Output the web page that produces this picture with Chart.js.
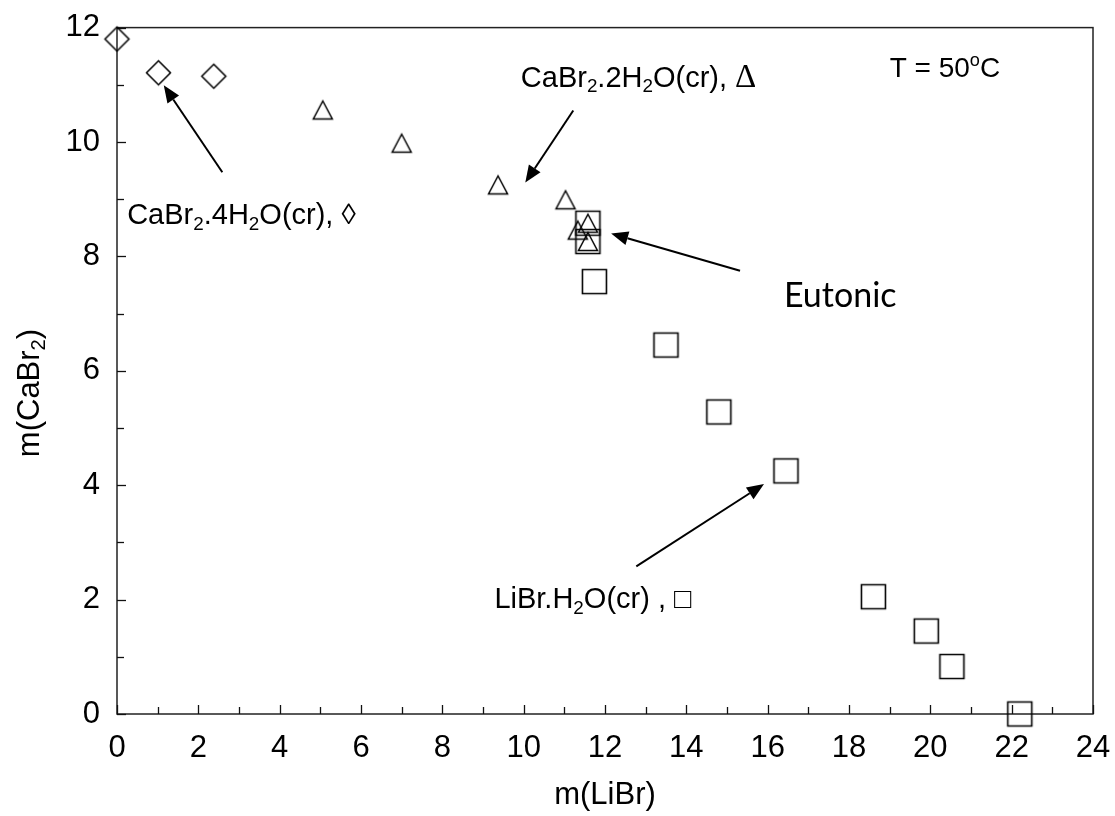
<!DOCTYPE html>
<html>
<head>
<meta charset="utf-8">
<script src="https://cdn.jsdelivr.net/npm/chart.js@4.4.1/dist/chart.umd.min.js"></script>
<style>
  html, body { margin: 0; padding: 0; background: #fff; }
  #wrap { width: 1115px; height: 816px; }
</style>
</head>
<body>
<div id="wrap"><canvas id="myChart" width="1115" height="816"></canvas></div>
<script>
// CaBr2.4H2O(cr) - diamonds
const tetraX = [0, 1.02, 2.38]
const tetraY = [11.8, 11.21, 11.15]
// CaBr2.2H2O(cr) - triangles
const diX = [5.06, 7.0, 9.37, 11.03, 11.58, 11.33, 11.58]
const diY = [10.56, 9.98, 9.25, 8.99, 8.58, 8.46, 8.26]
// LiBr.H2O(cr) - squares
const monoX = [11.58, 11.58, 11.74, 13.5, 14.8, 16.45, 18.6, 19.9, 20.53, 22.2]
const monoY = [8.58, 8.26, 7.56, 6.45, 5.28, 4.25, 2.05, 1.45, 0.83, 0]

const xTicks = [0, 2, 4, 6, 8, 10, 12, 14, 16, 18, 20, 22, 24]
const yTicks = [0, 2, 4, 6, 8, 10, 12]

// annotation arrows, in data units: [fromX, fromY, toX, toY]
const arrows = [
  [2.59, 9.47, 1.15, 10.99],
  [11.22, 10.55, 10.04, 9.29],
  [15.32, 7.75, 12.15, 8.40],
  [12.77, 2.58, 15.91, 4.02]
]

const SANS = '"Liberation Sans", Arial, sans-serif'

function pts(xs, ys) {
  return xs.map((x, i) => ({ x: x, y: ys[i] }))
}

// marker images
function marker(kind, w, h, lw) {
  const c = document.createElement('canvas')
  c.width = w + lw * 2 + 2
  c.height = h + lw * 2 + 2
  const g = c.getContext('2d')
  g.strokeStyle = '#000'
  g.lineWidth = lw
  g.lineJoin = 'miter'
  const cx = c.width / 2, cy = c.height / 2
  g.beginPath()
  if (kind == 'tri') {
    g.moveTo(cx, cy - h / 2)
    g.lineTo(cx + w / 2, cy + h / 2)
    g.lineTo(cx - w / 2, cy + h / 2)
  } else if (kind == 'dia') {
    g.moveTo(cx, cy - h / 2)
    g.lineTo(cx + w / 2, cy)
    g.lineTo(cx, cy + h / 2)
    g.lineTo(cx - w / 2, cy)
  } else {
    g.rect(cx - w / 2, cy - h / 2, w, h)
  }
  g.closePath()
  g.stroke()
  return c
}

function richText(ctx, parts, x, y, fs, family) {
  let cx = x
  parts.forEach(p => {
    const size = p.sub || p.sup ? fs * 0.65 : (p.size || fs)
    ctx.font = size + 'px ' + (p.family || family)
    const dy = p.sub ? fs * 0.2 : p.sup ? -fs * 0.38 : 0
    ctx.fillText(p.t, cx, y + dy)
    cx += ctx.measureText(p.t).width
  })
  return cx - x
}

function textWidth(ctx, parts, fs, family) {
  let w = 0
  parts.forEach(p => {
    const size = p.sub || p.sup ? fs * 0.65 : (p.size || fs)
    ctx.font = size + 'px ' + (p.family || family)
    w += ctx.measureText(p.t).width
  })
  return w
}

function drawArrow(ctx, x1, y1, x2, y2) {
  const a = Math.atan2(y2 - y1, x2 - x1)
  const hl = 17, hw = 7
  const bx = x2 - Math.cos(a) * hl, by = y2 - Math.sin(a) * hl
  ctx.strokeStyle = '#000'
  ctx.lineWidth = 2
  ctx.beginPath()
  ctx.moveTo(x1, y1)
  ctx.lineTo(bx, by)
  ctx.stroke()
  ctx.fillStyle = '#000'
  ctx.beginPath()
  ctx.moveTo(x2, y2)
  ctx.lineTo(bx - Math.sin(a) * hw, by + Math.cos(a) * hw)
  ctx.lineTo(bx + Math.sin(a) * hw, by - Math.cos(a) * hw)
  ctx.closePath()
  ctx.fill()
}

const framePlugin = {
  id: 'frame',
  beforeDatasetsDraw(chart) {
    const ctx = chart.ctx
    const a = chart.chartArea
    const xs = chart.scales.x, ys = chart.scales.y
    ctx.save()
    // box
    ctx.strokeStyle = '#222'
    ctx.lineWidth = 1.5
    ctx.strokeRect(a.left, a.top, a.right - a.left, a.bottom - a.top)
    // inward ticks
    ctx.lineWidth = 1.3
    ctx.strokeStyle = '#111'
    for (let v = 0; v <= 24; v++) {
      const px = Math.round(xs.getPixelForValue(v)) + 0.5
      const len = v % 2 == 0 ? 9 : 7
      ctx.beginPath(); ctx.moveTo(px, a.bottom); ctx.lineTo(px, a.bottom - len); ctx.stroke()
    }
    for (let v = 0; v <= 12; v++) {
      const py = Math.round(ys.getPixelForValue(v)) + 0.5
      const len = v % 2 == 0 ? 9 : 7
      ctx.beginPath(); ctx.moveTo(a.left, py); ctx.lineTo(a.left + len, py); ctx.stroke()
    }
    ctx.restore()
  },
  afterDraw(chart) {
    const ctx = chart.ctx
    const a = chart.chartArea
    const xs = chart.scales.x, ys = chart.scales.y
    ctx.save()
    // axis titles
    ctx.fillStyle = '#000'
    ctx.textBaseline = 'alphabetic'
    ctx.textAlign = 'left'
    const xt = [{ t: 'm(LiBr)' }]
    const xw = textWidth(ctx, xt, 31, SANS)
    richText(ctx, xt, (a.left + a.right) / 2 - xw / 2, 804, 31, SANS)
    const yt = [{ t: 'm(CaBr' }, { t: '2', sub: true }, { t: ')' }]
    const yw = textWidth(ctx, yt, 31, SANS)
    ctx.save()
    ctx.translate(39, 393)
    ctx.rotate(-Math.PI / 2)
    richText(ctx, yt, -yw / 2, 0, 31, SANS)
    ctx.restore()

    // arrows
    arrows.forEach(r => {
      drawArrow(ctx, xs.getPixelForValue(r[0]), ys.getPixelForValue(r[1]),
        xs.getPixelForValue(r[2]), ys.getPixelForValue(r[3]))
    })

    // labels
    ctx.fillStyle = '#000'
    richText(ctx, [{ t: 'CaBr' }, { t: '2', sub: true }, { t: '.4H' }, { t: '2', sub: true }, { t: 'O(cr), \u25CA' }],
      xs.getPixelForValue(0.25), ys.getPixelForValue(8.57), 29, SANS)
    richText(ctx, [{ t: 'CaBr' }, { t: '2', sub: true }, { t: '.2H' }, { t: '2', sub: true }, { t: 'O(cr), ' },
      { t: '\u0394', size: 33, family: '"Liberation Serif", serif' }],
      xs.getPixelForValue(9.93), ys.getPixelForValue(10.97), 29, SANS)
    richText(ctx, [{ t: 'T = 50' }, { t: 'o', sup: true }, { t: 'C' }],
      xs.getPixelForValue(19.0), ys.getPixelForValue(11.14), 28, SANS)
    richText(ctx, [{ t: 'LiBr.H' }, { t: '2', sub: true }, { t: 'O(cr) , \u25A1' }],
      xs.getPixelForValue(9.28), ys.getPixelForValue(1.85), 29, SANS)
    richText(ctx, [{ t: 'Eutonic' }], xs.getPixelForValue(16.4), ys.getPixelForValue(7.11), 34, 'Lato, "Open Sans", sans-serif')
    ctx.restore()
  }
}

const ctx = document.getElementById('myChart')
new Chart(ctx, {
  type: 'scatter',
  data: {
    datasets: [
      {
        label: 'CaBr2.4H2O(cr)',
        data: pts(tetraX, tetraY),
        pointStyle: marker('dia', 24, 24, 1.5),
        borderColor: '#000',
        backgroundColor: 'rgba(0,0,0,0)',
        clip: false
      },
      {
        label: 'CaBr2.2H2O(cr)',
        data: pts(diX, diY),
        pointStyle: marker('tri', 19, 18, 1.5),
        borderColor: '#000',
        backgroundColor: 'rgba(0,0,0,0)',
        clip: false
      },
      {
        label: 'LiBr.H2O(cr)',
        data: pts(monoX, monoY),
        pointStyle: marker('rect', 24, 24, 1.6),
        borderColor: '#000',
        backgroundColor: 'rgba(0,0,0,0)',
        clip: false
      }
    ]
  },
  options: {
    responsive: false,
    animation: false,
    devicePixelRatio: 1,
    layout: { padding: { top: 21, right: 0, left: 0, bottom: 0 } },
    plugins: {
      legend: { display: false },
      tooltip: { enabled: false }
    },
    scales: {
      x: {
        type: 'linear',
        min: 0, max: 24,
        afterBuildTicks: s => { s.ticks = xTicks.map(v => ({ value: v })) },
        afterFit: s => { s.height = 102; s.paddingRight = 22; s.paddingLeft = 0 },
        grid: { display: false },
        border: { display: false },
        ticks: { color: '#000', font: { family: SANS, size: 31 }, padding: 8, maxRotation: 0 }
      },
      y: {
        type: 'linear',
        min: 0, max: 12,
        afterBuildTicks: s => { s.ticks = yTicks.map(v => ({ value: v })) },
        afterFit: s => { s.width = 117 },
        grid: { display: false },
        border: { display: false },
        ticks: { color: '#000', font: { family: SANS, size: 31 }, padding: 9 }
      }
    }
  },
  plugins: [framePlugin]
})
</script>
</body>
</html>
